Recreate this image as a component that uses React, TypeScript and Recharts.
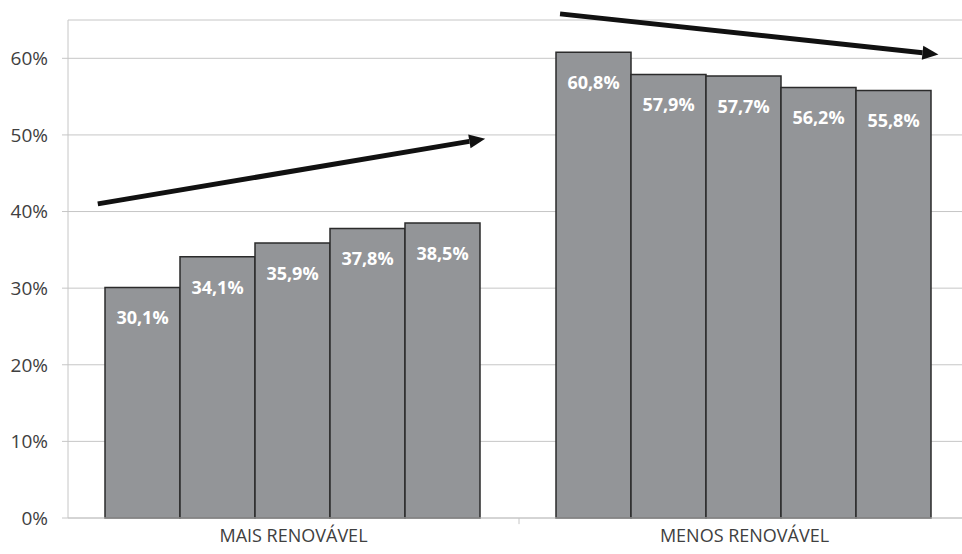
import React from 'react';
import { BarChart, Bar, XAxis, YAxis, CartesianGrid, ReferenceLine, LabelList } from 'recharts';

const categories = ['MAIS RENOVÁVEL', 'MENOS RENOVÁVEL'];
const serie1 = [30.1, 60.8];
const serie2 = [34.1, 57.9];
const serie3 = [35.9, 57.7];
const serie4 = [37.8, 56.2];
const serie5 = [38.5, 55.8];
const yTicks = [0, 10, 20, 30, 40, 50, 60];

// trend arrows, in (category position, %) units on a hidden numeric axis
const arrowUp = [{ x: 0.066, y: 41 }, { x: 0.925, y: 49.5 }];
const arrowDown = [{ x: 1.091, y: 65.8 }, { x: 1.93, y: 60.5 }];

const series = [serie1, serie2, serie3, serie4, serie5];
const data = categories.map((name, i) => {
  const row: Record<string, string | number> = { name, pos: i + 0.5 };
  series.forEach((s, j) => { row['s' + j] = s[i]; });
  return row;
});

const FONT = '"Open Sans", sans-serif';
const BAR_FILL = '#939598';
const BAR_STROKE = '#2b2b2b';
const GRID = '#c6c6c6';

const fmtLabel = (v: any) => `${Number(v).toFixed(1).replace('.', ',')}%`;

function Arrow(props: any) {
  const { x1, y1, x2, y2 } = props;
  const ang = Math.atan2(y2 - y1, x2 - x1);
  const len = 16;
  const half = 7;
  const bx = x2 - len * Math.cos(ang);
  const by = y2 - len * Math.sin(ang);
  const px = -Math.sin(ang) * half;
  const py = Math.cos(ang) * half;
  return (
    <g>
      <line x1={x1} y1={y1} x2={bx} y2={by} stroke="#111" strokeWidth={5} />
      <polygon
        points={`${x2},${y2} ${bx + px},${by + py} ${bx - px},${by - py}`}
        fill="#111"
      />
    </g>
  );
}

function Boundary(props: any) {
  const { x1, y1, x2, y2 } = props;
  return <line x1={x1} y1={y1} x2={x2} y2={y2} stroke={GRID} strokeWidth={1} />;
}

export default function App() {
  return (
    <div style={{ position: 'absolute', left: 0, top: 0, width: 962, height: 554, overflow: 'hidden', background: '#fff' }}>
      <BarChart
        width={975}
        height={554}
        data={data}
        margin={{ top: 20, right: 5, bottom: 0, left: 0 }}
        barCategoryGap={37}
        barGap={0}
      >
        <CartesianGrid vertical={false} stroke={GRID} />
        <XAxis
          dataKey="name"
          height={36}
          axisLine={{ stroke: GRID }}
          tickLine={false}
          tickSize={6}
          tickMargin={5}
          tick={{ fill: '#404040', fontSize: 18, fontFamily: FONT }}
        />
        <XAxis
          xAxisId="n"
          dataKey="pos"
          type="number"
          domain={[0, 2]}
          allowDataOverflow
          hide
        />
        <YAxis
          width={68}
          domain={[0, 65]}
          ticks={yTicks}
          interval={0}
          tickFormatter={(v) => `${v}%`}
          axisLine={{ stroke: GRID }}
          tickLine={{ stroke: GRID }}
          tickSize={6}
          tickMargin={14}
          tick={{ fill: '#404040', fontSize: 19, fontFamily: FONT }}
        />
        {series.map((_, j) => (
          <Bar
            key={j}
            dataKey={'s' + j}
            fill={BAR_FILL}
            stroke={BAR_STROKE}
            strokeWidth={1.5}
            isAnimationActive={false}
          >
            <LabelList
              dataKey={'s' + j}
              position="insideTop"
              offset={24}
              formatter={fmtLabel}
              style={{ fill: '#fff', fontSize: 18, fontWeight: 700, fontFamily: FONT }}
            />
          </Bar>
        ))}
        <ReferenceLine
          xAxisId="n"
          segment={[{ x: 1, y: 0 }, { x: 1, y: -0.8 }]}
          ifOverflow="visible"
          shape={(p: any) => <Boundary {...p} />}
        />
        <ReferenceLine
          xAxisId="n"
          segment={arrowUp}
          ifOverflow="visible"
          shape={(p: any) => <Arrow {...p} />}
        />
        <ReferenceLine
          xAxisId="n"
          segment={arrowDown}
          ifOverflow="visible"
          shape={(p: any) => <Arrow {...p} />}
        />
      </BarChart>
    </div>
  );
}
